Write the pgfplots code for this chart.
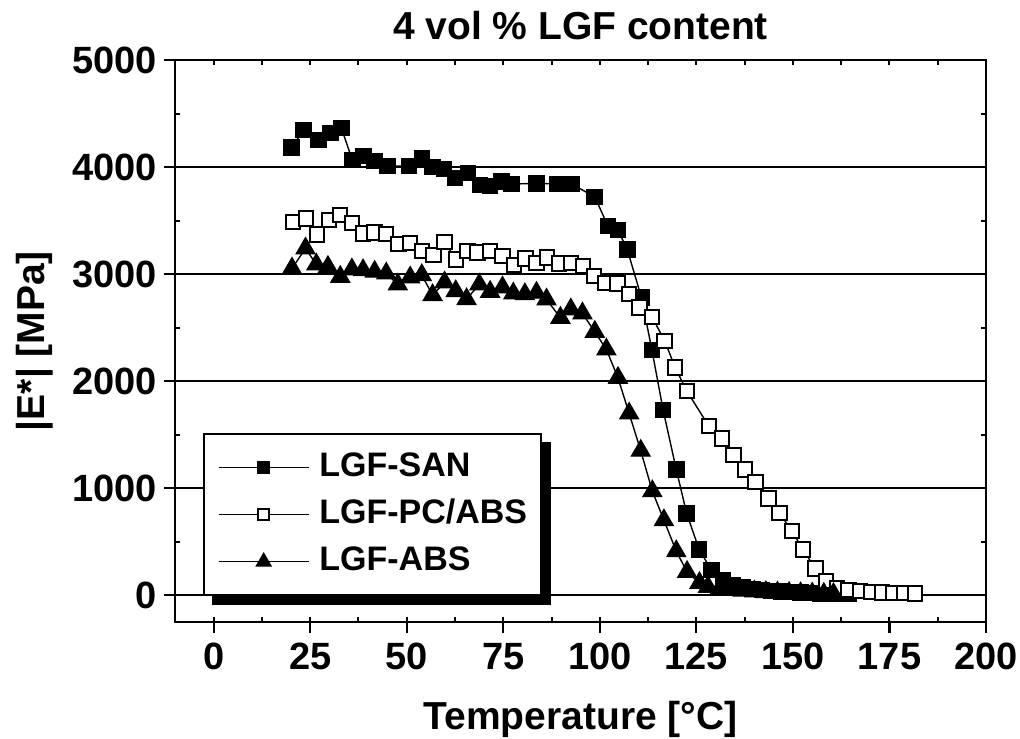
\documentclass[border=0pt]{standalone}
\usepackage{pgfplots}
\pgfplotsset{compat=1.18}
\usepackage{fontspec}
\setmainfont{Liberation Sans}

\pgfplotstableread{
T E
20.2 4180
23.3 4346
27.1 4252
30.2 4318
33.1 4364
35.9 4065
38.8 4103
41.6 4056
45.0 4009
50.6 4009
54.0 4084
56.6 4000
59.7 3981
62.5 3897
65.9 3944
69.0 3832
71.6 3822
74.6 3863
77.2 3841
83.6 3848
89.1 3841
92.7 3841
98.7 3722
102.1 3449
104.7 3411
107.1 3231
110.8 2779
113.5 2290
116.4 1729
119.8 1174
122.5 763
125.7 430
128.9 234
131.9 140
134.5 90
137.0 70
139.5 58
142.0 48
144.5 40
147.0 34
149.5 29
152.0 25
154.5 21
157.0 18
159.5 15
162.0 12
164.5 10
}\san

\pgfplotstableread{
T E
20.6 3489
23.9 3520
26.8 3371
29.8 3505
32.8 3551
35.8 3480
38.7 3380
41.7 3390
44.7 3374
47.9 3280
50.9 3293
53.9 3218
56.9 3178
59.8 3302
62.7 3137
65.7 3218
68.3 3200
71.6 3218
74.8 3168
77.8 3084
80.8 3146
83.6 3106
86.4 3156
89.5 3100
92.6 3106
95.6 3075
98.5 2981
101.4 2919
104.6 2913
107.5 2813
110.3 2689
113.5 2601
116.8 2377
119.5 2128
122.5 1909
128.2 1582
131.6 1464
134.6 1308
137.6 1174
140.3 1059
143.7 904
146.5 769
149.8 598
152.6 427
155.8 249
158.6 134
161.4 68
164.4 47
167.4 37
170.3 31
173.1 25
176.0 22
178.8 22
181.6 16
}\pcabs

\pgfplotstableread{
T E
20.3 3053
23.8 3240
26.6 3090
29.6 3068
32.8 2975
35.8 3044
38.7 3037
41.7 3022
44.7 3006
47.7 2903
50.9 2969
53.9 2991
56.7 2804
59.8 2922
62.7 2841
65.5 2766
68.8 2903
71.6 2835
74.8 2876
77.6 2819
80.6 2813
83.6 2826
86.2 2763
89.8 2592
92.5 2670
95.5 2633
98.7 2461
101.7 2296
104.7 2031
107.6 1698
110.6 1350
113.6 972
116.6 701
119.8 411
122.6 218
125.8 115
128.0 78
131.0 60
134.0 50
137.0 42
140.0 35
143.0 30
146.0 26
149.0 22
152.0 19
155.0 16
158.0 14
160.5 12
}\abs

\begin{document}
\begin{tikzpicture}
\useasboundingbox (-87.5pt,-58pt) rectangle (422.5pt,311pt);
% minor / inner ticks
\begin{axis}[
  scale only axis, width=405.5pt, height=281pt,
  xmin=-10, xmax=200, ymin=-250, ymax=5000,
  axis line style={draw=none},
  xtick={0,12.5,...,200}, ytick={0,500,...,5000},
  xticklabels={}, yticklabels={},
  tick align=inside, tick pos=both,
  major tick length=2.5pt,
  tick style={line width=1pt, black},
]
\end{axis}
\begin{axis}[
  scale only axis, width=405.5pt, height=281pt,
  xmin=-10, xmax=200, ymin=-250, ymax=5000,
  axis line style={line width=1.1pt},
  xtick={0,25,...,200}, ytick={0,1000,...,5000},
  xtick pos=bottom, ytick pos=left, tick align=outside,
  major tick length=5.5pt,
  tick style={line width=1.1pt, black},
  ymajorgrids, grid style={line width=0.8pt, black},
  /pgf/number format/assume math mode=true,
  /pgf/number format/set thousands separator={},
  ticklabel style={font=\fontsize{19}{22}\selectfont\bfseries},
  xticklabel style={yshift=-1.5pt},
  title={4 vol \% LGF content},
  title style={font=\fontsize{19.5}{22}\selectfont\bfseries, at={(axis description cs:0.5,1)}, anchor=base, yshift=4pt},
  xlabel={Temperature [°C]},
  xlabel style={font=\fontsize{19.5}{22}\selectfont\bfseries, at={(axis description cs:0.5,0)}, anchor=base, yshift=-53.5pt},
  ylabel={|E*| [MPa]},
  ylabel style={font=\fontsize{19.5}{22}\selectfont\bfseries, at={(axis description cs:-0.1615,0.5)}, anchor=base},
  every axis plot/.append style={black, line width=0.7pt},
  legend image code/.code={\draw[mark repeat=2, mark phase=2, every mark/.append style={scale=0.78}] plot coordinates {(0pt,0pt) (22.5pt,0pt) (45pt,0pt)};},
  legend style={name=leg, at={(0.0345,0.336)}, anchor=north west, draw=black, line width=1pt, fill=white,
    font=\fontsize{17}{20}\selectfont\bfseries,
    inner xsep=7pt, inner ysep=8.9pt, row sep=7.8pt, column sep=5pt,
    nodes={inner sep=0pt, text height=12.2pt, text depth=3.5pt}},
  legend cell align=left,
]
\addplot[mark=square*, mark size=3.8pt, mark options={fill=black, solid}] table[x=T, y=E] {\san};
\addlegendentry{LGF-SAN}
\addplot[mark=square*, mark size=3.6pt, mark options={fill=white, line width=1pt, solid}] table[x=T, y=E] {\pcabs};
\addlegendentry{LGF-PC/ABS\hspace{9pt}}
\addplot[mark=triangle*, mark size=5.3pt, mark options={fill=black, solid}] table[x=T, y=E] {\abs};
\addlegendentry{LGF-ABS}
\end{axis}
% legend shadow
\fill[black] ([yshift=-4.5pt]leg.north east) rectangle ([xshift=4.5pt,yshift=-4.5pt]leg.south east);
\fill[black] ([xshift=4.5pt]leg.south west) rectangle ([xshift=4.5pt,yshift=-4.5pt]leg.south east);
\end{tikzpicture}
\end{document}
